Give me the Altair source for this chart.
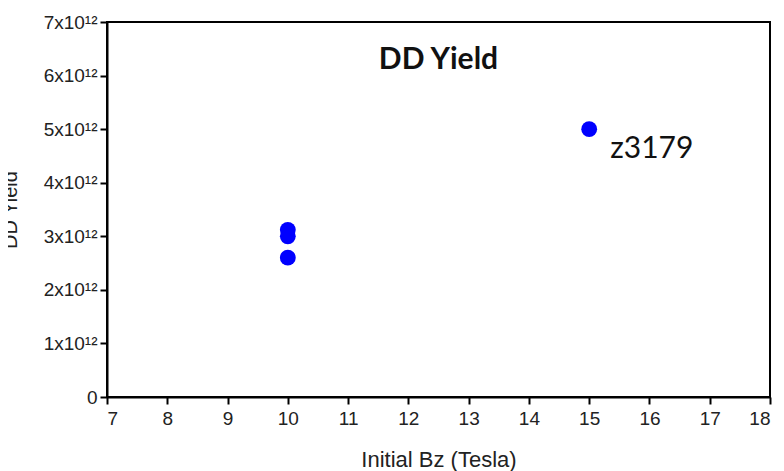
import altair as alt
import pandas as pd

# Data
bz_tesla = [10, 10, 10, 15]
dd_yield = [3.12e12, 3.0e12, 2.6e12, 5.0e12]
shot_labels = ["", "", "", "z3179"]

x_ticks = [7, 7.5, 8, 8.5, 9, 9.5, 10, 10.5, 11, 11.5, 12, 12.5, 13, 13.5,
           14, 14.5, 15, 15.5, 16, 16.5, 17, 17.5, 18]
y_ticks = [0, 0.5e12, 1e12, 1.5e12, 2e12, 2.5e12, 3e12, 3.5e12, 4e12, 4.5e12,
           5e12, 5.5e12, 6e12, 6.5e12, 7e12]

df = pd.DataFrame({"bz": bz_tesla, "yield": dd_yield, "shot": shot_labels})
df_lab = df[df["shot"] != ""]

xscale = alt.Scale(domain=[7, 18], nice=False, zero=False)
yscale = alt.Scale(domain=[0, 7e12], nice=False, zero=True)

xlabel_expr = "datum.value % 1 == 0 ? format(datum.value, 'd') : ''"
ylabel_expr = ("datum.value % 1e12 != 0 ? '' : (datum.value == 0 ? '0' : "
               "format(datum.value / 1e12, 'd') + 'x10\u00b9\u00b2')")

x_tick_size = {"condition": {"test": "datum.value % 1 != 0", "value": 4}, "value": 7}
y_tick_size = {"condition": {"test": "datum.value % 1e12 != 0", "value": 4}, "value": 7}

points = alt.Chart(df).mark_circle(size=250, color="#0000ff", opacity=1).encode(
    x=alt.X("bz:Q", scale=xscale,
            axis=alt.Axis(values=x_ticks, labelExpr=xlabel_expr, labelOverlap=False,
                          title="Initial Bz (Tesla)", tickSize=x_tick_size,
                          labelPadding=5, grid=False, orient="bottom",
                          titleFontSize=22, titleFontWeight="normal",
                          titleBaseline="alphabetic", titleY=69,
                          titleColor="#222222")),
    y=alt.Y("yield:Q", scale=yscale,
            axis=alt.Axis(values=y_ticks, labelExpr=ylabel_expr, labelOverlap=False,
                          title="DD Yield", tickSize=y_tick_size,
                          labelPadding=3, grid=False, orient="left",
                          labelBaseline="middle",
                          titleFontSize=20, titleFontWeight="normal",
                          titleAngle=270, titleBaseline="alphabetic",
                          titleX=-91, titleColor="#222222")),
)

labels = alt.Chart(df_lab).mark_text(
    align="left", baseline="alphabetic", dx=21, dy=29,
    font="Lato", fontSize=30, color="#111111"
).encode(
    x=alt.X("bz:Q", scale=xscale),
    y=alt.Y("yield:Q", scale=yscale),
    text="shot:N",
)

chart = alt.layer(points, labels).properties(
    width=663,
    height=375,
    autosize=alt.AutoSizeParams(type="none"),
    padding={"left": 99, "top": 14, "right": 6, "bottom": 80},
    title=alt.TitleParams(
        text="DD Yield", font="Lato", fontWeight="bold", fontSize=30,
        anchor="middle", baseline="alphabetic", offset=0, dy=86, color="#111111"
    ),
).configure_view(
    stroke="black", strokeWidth=2
).configure_axis(
    domainColor="black", domainWidth=2, tickColor="black", tickWidth=2,
    labelFont="Liberation Sans", labelFontSize=19, labelColor="#222222",
    titleFont="Liberation Sans", grid=False
)

chart.save("out.html", embed_options={"renderer": "svg", "actions": False})
